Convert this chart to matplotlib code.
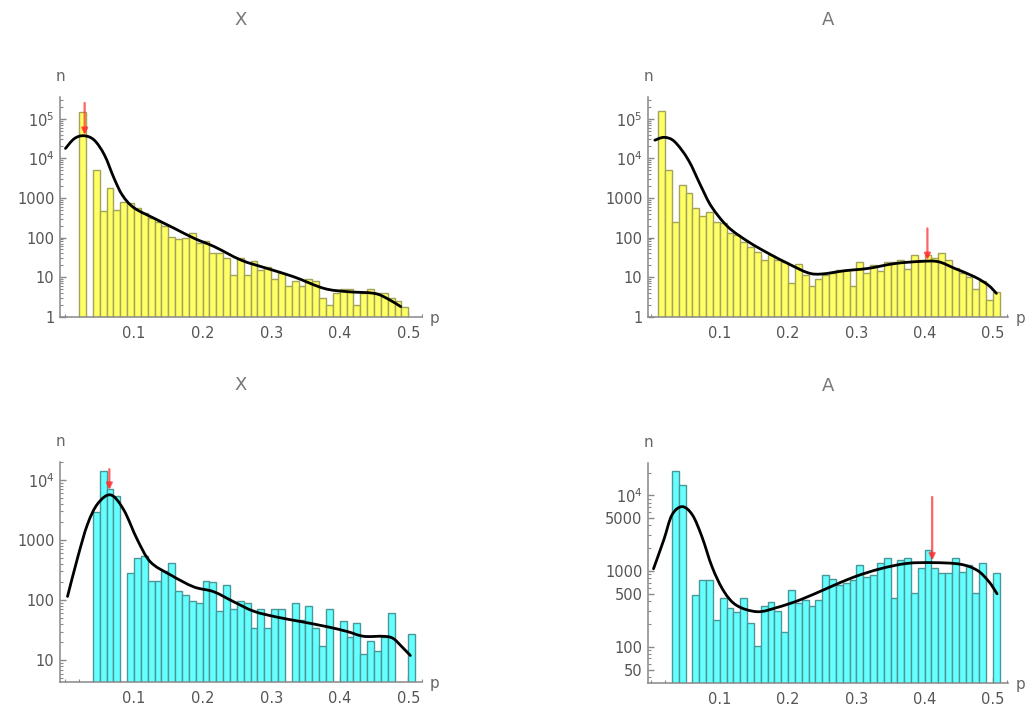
import numpy as np
import matplotlib.pyplot as plt
from matplotlib.path import Path
from matplotlib.patches import PathPatch
from matplotlib.ticker import FixedLocator, FixedFormatter, LogLocator, NullFormatter, MultipleLocator

# histogram counts, bins of width 0.01 starting at *_start
tl_start = 0.02
tl_counts = [150000, 0, 5000, 460, 1800, 490, 770, 730, 545, 405,
             305, 250, 195, 105, 91, 95, 130, 71, 83, 40,
             40, 30, 11, 30, 11, 25, 15, 18, 9, 13,
             6, 8, 6, 9, 8, 3, 2, 4, 5, 5,
             2, 4, 5, 4, 4, 3, 2.5, 1.8]

tr_start = 0.01
tr_counts = [160000, 5000, 250, 2100, 1300, 550, 350, 450, 250, 230,
             128, 116, 79, 59, 44, 27, 36, 27, 24, 7,
             21, 11, 6, 9, 11, 13, 15, 15, 6, 24,
             13, 20, 14, 24, 24, 27, 16, 36, 27, 36,
             30, 40, 27, 17, 13, 10, 5, 8, 2.7, 4.2]

bl_start = 0.04
bl_counts = [2900, 14000, 7000, 5300, 0, 285, 510, 540, 205, 205,
             310, 420, 143, 120, 98, 88, 210, 200, 67, 178,
             70, 98, 88, 34, 72, 34, 72, 72, 0, 88,
             46, 80, 34, 17, 72, 0, 45, 24, 41, 12.5,
             21, 14, 24, 60, 0, 0, 27]

br_start = 0.03
br_counts = [21000, 13800, 0, 480, 760, 760, 225, 435, 325, 288,
             435, 205, 102, 345, 390, 300, 158, 560, 375, 415,
             345, 415, 885, 790, 650, 690, 760, 1200, 830, 885,
             1290, 1500, 437, 1390, 1500, 505, 1080, 1870, 1080, 950,
             950, 1500, 980, 1200, 505, 1290, 0, 955]

# smooth density curves
tl_curve_p = [0.0, 0.013, 0.027, 0.042, 0.057, 0.071, 0.083, 0.100, 0.130, 0.159,
              0.188, 0.217, 0.256, 0.294, 0.333, 0.377, 0.411, 0.450, 0.469, 0.489]
tl_curve_n = [17800, 31600, 37200, 28800, 12000, 3100, 1175, 562, 302, 170,
              95, 59, 27, 16.6, 10.2, 5.2, 4.3, 3.9, 2.9, 1.8]

tr_curve_p = [0.005, 0.019, 0.034, 0.054, 0.073, 0.088, 0.112, 0.142, 0.171, 0.200,
              0.229, 0.249, 0.283, 0.317, 0.356, 0.395, 0.420, 0.444, 0.473, 0.493, 0.505]
tr_curve_n = [28800, 33900, 26300, 9100, 1900, 600, 186, 78, 40, 22,
              12.9, 12, 14.5, 16.6, 22, 25, 24.5, 16.6, 10.2, 6.3, 3.9]

bl_curve_p = [0.003, 0.018, 0.032, 0.047, 0.066, 0.085, 0.105, 0.124, 0.153, 0.187,
              0.216, 0.246, 0.275, 0.309, 0.343, 0.382, 0.411, 0.435, 0.464, 0.478,
              0.491, 0.503]
bl_curve_n = [115, 520, 1800, 4000, 5600, 3160, 1000, 430, 263, 166,
              138, 93, 65, 52, 44, 36, 30, 25, 25, 23,
              16.6, 12]

br_curve_p = [0.003, 0.018, 0.030, 0.045, 0.060, 0.074, 0.089, 0.106, 0.125, 0.155,
              0.184, 0.218, 0.257, 0.296, 0.335, 0.374, 0.413, 0.452, 0.477, 0.494, 0.506]
br_curve_n = [1070, 2570, 5500, 7080, 5500, 2820, 1120, 540, 350, 290,
              330, 417, 590, 830, 1070, 1260, 1290, 1230, 1020, 725, 500]

# red arrows: position, tail, head
tl_arrow = (0.028, 250000, 39000)
tr_arrow = (0.404, 170, 27)
bl_arrow = (0.064, 15000, 6800)
br_arrow = (0.411, 9500, 1380)

top_ticks = [1, 10, 100, 1000, 1e4, 1e5]
top_labels = ['1', '10', '100', '1000', r'$10^4$', r'$10^5$']
bl_ticks = [10, 100, 1000, 1e4]
bl_labels = ['10', '100', '1000', r'$10^4$']
br_ticks = [50, 100, 500, 1000, 5000, 1e4]
br_labels = ['50', '100', '500', '1000', '5000', r'$10^4$']

titles = ['X', 'A', 'X', 'A']

yellow, yellow_edge = '#ffff66', '#a3a35a'
cyan, cyan_edge = '#66ffff', '#4a9797'
grey = '#666666'

fig = plt.figure(figsize=(10.27, 7.07), dpi=100)


def smooth_path(px, n):
    # bezier path through the read points (catmull-rom in p / log n)
    x = np.asarray(px, float)
    y = np.log10(np.asarray(n, float))
    verts = [(x[0], y[0])]
    codes = [Path.MOVETO]
    for i in range(len(x) - 1):
        x0, y0 = (x[i - 1], y[i - 1]) if i > 0 else (x[i], y[i])
        x3, y3 = (x[i + 2], y[i + 2]) if i + 2 < len(x) else (x[i + 1], y[i + 1])
        c1 = (x[i] + (x[i + 1] - x0) / 6, y[i] + (y[i + 1] - y0) / 6)
        c2 = (x[i + 1] - (x3 - x[i]) / 6, y[i + 1] - (y3 - y[i]) / 6)
        verts += [c1, c2, (x[i + 1], y[i + 1])]
        codes += [Path.CURVE4] * 3
    verts = [(a, 10 ** b) for a, b in verts]
    return Path(verts, codes)


def panel(rect, xlim, start, counts, cp, cn, arrow, ylim, ticks, labels, fill, edge, title):
    ax = fig.add_axes(rect)
    ax.set_yscale('log')
    edges = start + 0.01 * np.arange(len(counts))
    counts = np.array(counts, float)
    keep = counts > 0
    floor = ylim[0] * 0.5
    ax.bar(edges[keep], counts[keep] - floor, bottom=floor, width=0.01, align='edge',
           color=fill, edgecolor=edge, linewidth=1.0, zorder=2)
    ax.add_patch(PathPatch(smooth_path(cp, cn), facecolor='none', edgecolor='black',
                           lw=2, zorder=3, capstyle='round'))
    p, tail, head = arrow
    ax.annotate('', xy=(p, head), xytext=(p, tail),
                arrowprops=dict(arrowstyle='-|>', color='#ff3030', alpha=0.75,
                                lw=1.6, mutation_scale=9, shrinkA=0, shrinkB=0),
                zorder=4)
    ax.set_xlim(*xlim)
    ax.set_ylim(*ylim)

    for s in ['top', 'right']:
        ax.spines[s].set_visible(False)
    for s in ['left', 'bottom']:
        ax.spines[s].set_color('#888888')
        ax.spines[s].set_linewidth(1.1)

    ax.xaxis.set_major_locator(FixedLocator([0.1, 0.2, 0.3, 0.4, 0.5]))
    ax.xaxis.set_major_formatter(FixedFormatter(['0.1', '0.2', '0.3', '0.4', '0.5']))
    ax.xaxis.set_minor_locator(MultipleLocator(0.02))
    ax.yaxis.set_major_locator(FixedLocator(ticks))
    ax.yaxis.set_major_formatter(FixedFormatter(labels))
    ax.yaxis.set_minor_locator(LogLocator(base=10, subs=np.arange(2, 10)))
    ax.yaxis.set_minor_formatter(NullFormatter())
    ax.tick_params(which='both', direction='in', color='#888888', labelcolor='#555555',
                   labelsize=10.5)
    ax.tick_params(which='major', length=4.5, width=1)
    ax.tick_params(which='minor', length=2.5, width=0.8)
    ax.tick_params(axis='x', pad=7)
    ax.tick_params(axis='y', pad=4)

    ax.text(0.0, 1.09, 'n', transform=ax.transAxes, ha='center', va='center',
            fontsize=11, color=grey)
    ax.text(1.035, -0.01, 'p', transform=ax.transAxes, ha='center', va='center',
            fontsize=11, color=grey)
    ax.text(0.5, 1.35, title, transform=ax.transAxes, ha='center', va='center',
            fontsize=13, color='#777777')
    return ax


left_x = (-0.008, 0.52)
right_x = (-0.005, 0.522)

panel([0.0584, 0.552, 0.3525, 0.3112], left_x, tl_start, tl_counts, tl_curve_p, tl_curve_n,
      tl_arrow, (1, 3.6e5), top_ticks, top_labels, yellow, yellow_edge, titles[0])
panel([0.631, 0.552, 0.3505, 0.3112], right_x, tr_start, tr_counts, tr_curve_p, tr_curve_n,
      tr_arrow, (1, 3.6e5), top_ticks, top_labels, yellow, yellow_edge, titles[1])
panel([0.0584, 0.0358, 0.3525, 0.3112], left_x, bl_start, bl_counts, bl_curve_p, bl_curve_n,
      bl_arrow, (4.4, 2.0e4), bl_ticks, bl_labels, cyan, cyan_edge, titles[2])
panel([0.631, 0.0344, 0.3505, 0.3112], right_x, br_start, br_counts, br_curve_p, br_curve_n,
      br_arrow, (33.5, 2.7e4), br_ticks, br_labels, cyan, cyan_edge, titles[3])

fig.savefig('out.png', dpi=100)
